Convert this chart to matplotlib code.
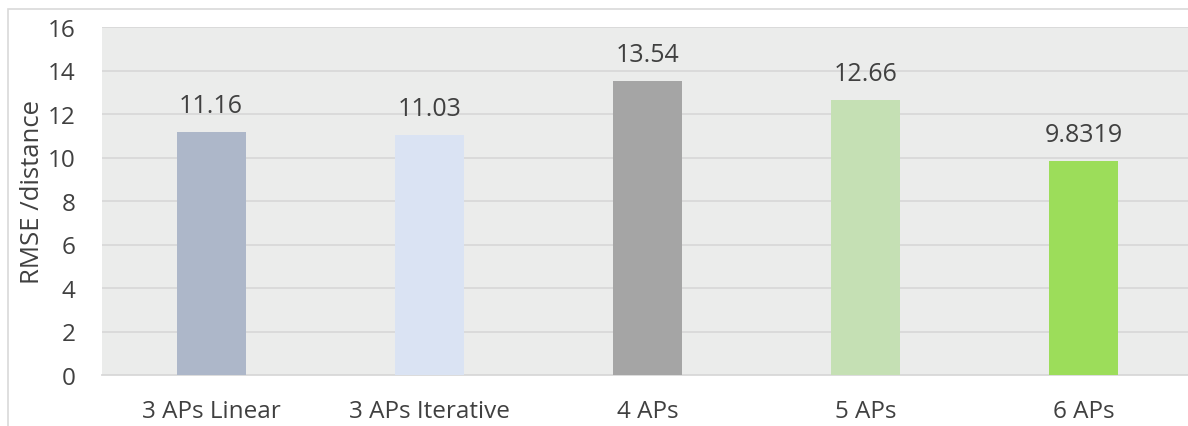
import matplotlib.pyplot as plt
import matplotlib.patches as patches

categories = ["3 APs Linear", "3 APs Iterative", "4 APs", "5 APs", "6 APs"]
values = [11.16, 11.03, 13.54, 12.66, 9.8319]
value_labels = ["11.16", "11.03", "13.54", "12.66", "9.8319"]
bar_colors = ["#ADB7C9", "#DAE3F3", "#A5A5A5", "#C5E0B4", "#9CDD5A"]

plt.rcParams["font.family"] = ["Open Sans", "DejaVu Sans"]
TEXT = "#404040"

fig = plt.figure(figsize=(11.88, 4.27), dpi=100)
fig.patch.set_facecolor("white")

# cadre exterieur (coupe a droite et en bas comme l'original)
W, H = 1188, 427
frame = patches.Rectangle((8 / W, -0.1), 1.2, 1 - 10 / H + 0.1, transform=fig.transFigure,
                          facecolor="none", edgecolor="#D9D9D9", linewidth=1.2)
fig.patches.append(frame)

ax = fig.add_axes([102 / W, 1 - 376 / H, 1091 / W, 348 / H])
ax.set_facecolor("#EBECEB")

x = range(len(categories))
bars = ax.bar(x, values, width=0.317, color=bar_colors, zorder=3)

for xi, v, lab in zip(x, values, value_labels):
    ax.annotate(lab, (xi, v), xytext=(0, 19), textcoords="offset points",
                ha="center", va="center", fontsize=18, color=TEXT)

ax.set_ylim(0, 16)
ax.set_xlim(-0.5, len(categories) - 0.5)
ax.set_yticks(range(0, 17, 2))
ax.set_xticks(list(x))
ax.set_xticklabels(categories)
ax.yaxis.grid(True, color="#D9D9D9", linewidth=1.3, zorder=0)
ax.set_axisbelow(True)

for s in ["left", "right", "top"]:
    ax.spines[s].set_visible(False)
ax.spines["bottom"].set_color("#D9D9D9")
ax.spines["bottom"].set_linewidth(1.3)

ax.tick_params(axis="both", length=0, labelsize=17.5, labelcolor=TEXT)
ax.tick_params(axis="y", pad=19)
ax.tick_params(axis="x", pad=17)
ax.set_ylabel("RMSE /distance", fontsize=18.5, color=TEXT)
ax.yaxis.set_label_coords(-57 / 1091, 0.53)

plt.savefig("out.png", dpi=100, facecolor="white")
